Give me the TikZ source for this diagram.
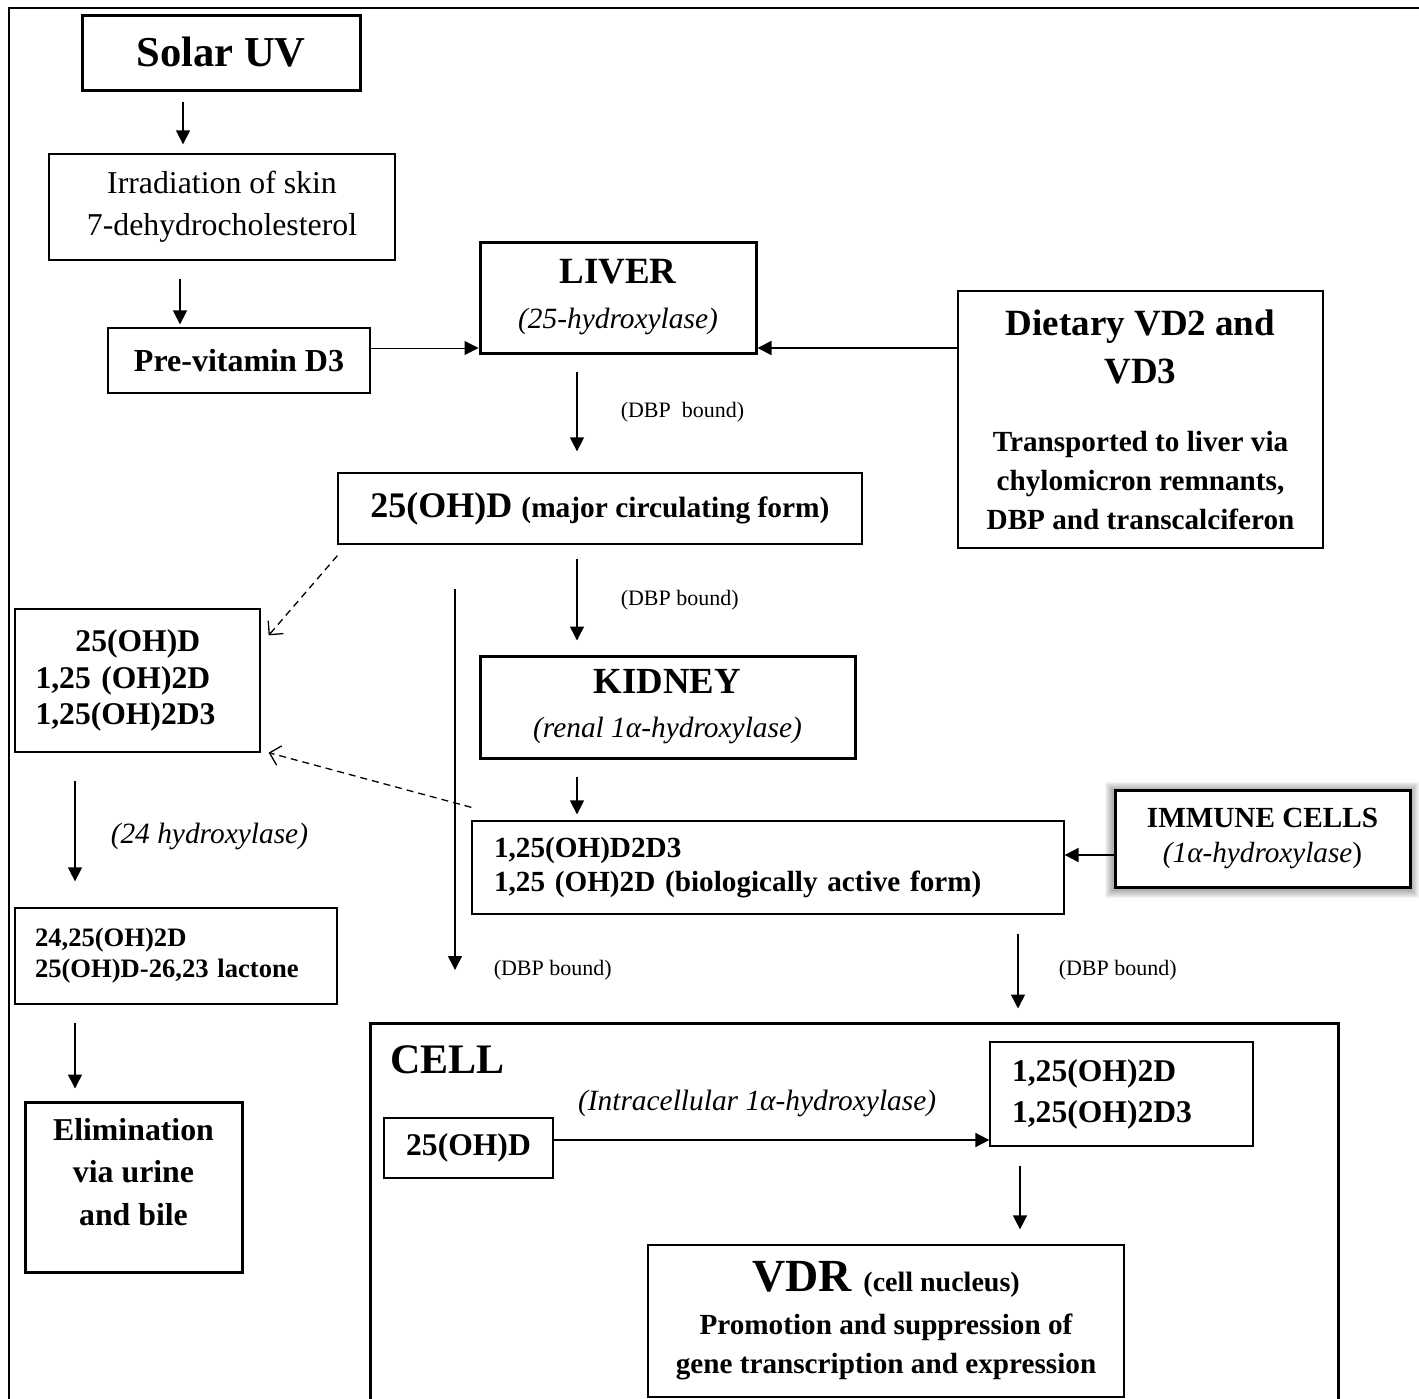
\documentclass[tikz,border=0pt]{standalone}
\usepackage{fontspec}
\setmainfont{Liberation Serif}
\usetikzlibrary{positioning,arrows.meta,backgrounds}

\newcommand{\setfs}[2]{\fontsize{#1}{#2}\selectfont}

\begin{document}
\begin{tikzpicture}[x=0.5pt,y=-0.5pt,
  box/.style={draw, line width=0.65pt, inner sep=0pt, align=center},
  bigbox/.style={box, line width=1.5pt},
  arr/.style={-{Triangle[length=7pt,width=7pt]}, line width=0.75pt},
  dasharr/.style={-{Straight Barb[length=5pt,width=10pt]}, dash pattern=on 3.5pt off 2.5pt, line width=0.65pt},
  dbp/.style={font=\setfs{11}{13}, inner sep=0pt},
  enz/.style={font=\setfs{14.7}{17}\itshape, inner sep=0pt}]

  \useasboundingbox (0,0) rectangle (1419,1398);
  \clip (0,0) rectangle (1419,1398);
  \draw[line width=1.25pt] (9,1420) -- (9,8) -- (1440,8);

  % boxes
  \node[bigbox, minimum width=139pt, minimum height=37.5pt, font=\setfs{21.3}{25}\bfseries] (solar) at (221,52.5) {Solar UV};
  \node[box, minimum width=173pt, minimum height=53pt, font=\setfs{15.9}{21}] (skin) at (222,207) {Irradiation of skin\\7-dehydrocholesterol};
  \node[box, minimum width=131pt, minimum height=32.5pt, font=\setfs{16}{19}\bfseries] (previt) at (239,360.5) {Pre-vitamin D3};
  \node[bigbox, minimum width=138pt, minimum height=55.5pt, font=\setfs{14.7}{22.5}\itshape] (liver) at (618,297.5)
    {\setfs{18.5}{22.5}\upshape\bfseries LIVER\\(25-hydroxylase)};
  \node[box, line width=1.3pt, minimum width=182.5pt, minimum height=128.5pt, font=\setfs{14.6}{19.5}\bfseries] (diet) at (1140.5,419.5)
    {\setfs{18.5}{24}Dietary VD2 and\\[4.5pt] \setfs{18.5}{24}VD3\\[14.5pt] Transported to liver via\\ chylomicron remnants,\\ DBP and transcalciferon};
  \node[box, minimum width=262pt, minimum height=35.5pt, font=\setfs{14.7}{22}\bfseries] (ohd) at (600,508.5) {\setfs{18}{22}25(OH)D \setfs{14.7}{22}(major circulating form)};
  \node[box, minimum width=122.5pt, minimum height=71.5pt, text width=102pt, align=left, font=\setfs{15.8}{18.3}\bfseries] (circ) at (137.5,680.5)
    {\hspace*{20pt}25(OH)D\\1,25 (OH)2D\\1,25(OH)2D3};
  \node[bigbox, minimum width=187.5pt, minimum height=51pt, font=\setfs{14.7}{22}\itshape] (kidney) at (667.5,707)
    {\setfs{18.4}{22}\upshape\bfseries KIDNEY\\(renal 1α-hydroxylase)};
  \node[box, minimum width=296pt, minimum height=46.5pt, text width=274pt, align=left, font=\setfs{14.6}{17}\bfseries] (active) at (768,867.5)
    {1,25(OH)D2D3\\1,25 (OH)2D (biologically active form)};
  \node[bigbox, fill=white, minimum width=147.5pt, minimum height=48.5pt, font=\setfs{14.6}{17.5}\itshape] (immune) at (1262.5,838.5)
    {\upshape\bfseries IMMUNE CELLS\\(1α-hydroxylase\upshape)};
  \node[box, minimum width=161pt, minimum height=48pt, text width=141pt, align=left, font=\setfs{13.3}{15.5}\bfseries] (metab) at (176,956)
    {24,25(OH)2D\\25(OH)D-26,23 lactone};
  \node[bigbox, minimum width=108.5pt, minimum height=85pt] (elim) at (133.5,1187) {};
  \node[font=\setfs{15.9}{21.3}\bfseries, align=center, inner sep=0pt] (elimtext) at (133.5,1172) {Elimination\\via urine\\and bile};

  % cell
  \node[bigbox, minimum width=484pt, minimum height=198.5pt] (cell) at (854,1221.5) {};
  \node[font=\setfs{21}{25}\bfseries, anchor=base west, inner sep=0pt] (celltitle) at (390,1073) {CELL};
  \node[box, minimum width=84.5pt, minimum height=30pt, font=\setfs{15.8}{19}\bfseries] (ohdin) at (468.5,1148) {25(OH)D};
  \node[box, minimum width=131.5pt, minimum height=52pt, text width=109.5pt, align=left, font=\setfs{15.8}{20.5}\bfseries] (cout) at (1121.5,1094)
    {1,25(OH)2D\\1,25(OH)2D3};
  \node[box, minimum width=238pt, minimum height=76pt, font=\setfs{14.6}{19.5}\bfseries] (vdr) at (886,1321)
    {\setfs{23}{19.5}VDR \setfs{14}{19.5}(cell nucleus)\\[2pt] Promotion and suppression of\\ gene transcription and expression};

  \begin{scope}[on background layer]
    \foreach \g in {1,...,8}
      \fill[black, opacity=0.045] ([shift={(-\g-1,-\g+1)}]immune.north west) rectangle ([shift={(\g-1,\g+1)}]immune.south east);
  \end{scope}

  % arrows
  \path (solar.south) ++(-38,10) coordinate (a1);
  \draw[arr, shorten >=4.5pt] (a1) -- (a1 |- skin.north);
  \path (skin.south) ++(-42,18) coordinate (a2);
  \draw[arr, shorten >=1.5pt] (a2) -- (a2 |- previt.north);
  \path (previt.east) ++(0,-12.5) coordinate (a3);
  \draw[arr, line width=0.5pt] (a3) -- (a3 -| liver.west);
  \path (liver.east) ++(0,50.5) coordinate (a4);
  \draw[arr, line width=0.9pt] (a4 -| diet.west) -- (a4);
  \path (liver.south) ++(-41,17) coordinate (a5);
  \draw[arr, shorten >=10.5pt] (a5) -- node[dbp, pos=0.4, right=21.5pt] (dbp1) {(DBP\ \ bound)} (a5 |- ohd.north);
  \path (ohd.south) ++(-23,14) coordinate (a6);
  \draw[arr, shorten >=7pt] (a6) -- node[dbp, pos=0.43, right=21.5pt] (dbp2) {(DBP bound)} (a6 |- kidney.north);
  \path (ohd.south) ++(-145,44) coordinate (a7);
  \coordinate (dbpend) at (455,970);
  \draw[arr] (a7) -- node[dbp, pos=1, right=19pt] (dbp3) {(DBP bound)} (dbpend);
  \path (kidney.south) ++(-90.5,17) coordinate (a8);
  \draw[arr, shorten >=3pt] (a8) -- (a8 |- active.north);
  \path (immune.west) ++(0,16.5) coordinate (a9);
  \draw[arr, line width=1pt] (a9) -- (a9 -| active.east);
  \path (active.south) ++(250,19) coordinate (a10);
  \draw[arr, shorten >=6.5pt] (a10) -- node[dbp, pos=0.42, right=20pt] (dbp4) {(DBP bound)} (a10 |- cell.north);
  \path (circ.south) ++(-62.5,28) coordinate (a11);
  \draw[arr, shorten >=13pt] (a11) -- node[enz, pos=0.44, right=17.5pt] (hyd24) {(24 hydroxylase)} (a11 |- metab.north);
  \path (metab.south) ++(-101,18) coordinate (a12);
  \draw[arr, shorten >=6pt] (a12) -- (a12 |- elim.north);
  \path (ohdin.east) ++(0,-8) coordinate (a13);
  \draw[arr, line width=0.9pt] (a13) -- node[enz, pos=0.467, above=11pt] (intra) {(Intracellular 1α-hydroxylase)} (a13 -| cout.west);
  \path (cout.south) ++(-101.5,19) coordinate (a14);
  \draw[arr, shorten >=7.5pt] (a14) -- (a14 |- vdr.north);

  % dashed returns
  \path (ohd.south west) ++(0,11) coordinate (d1);
  \path (circ.north east) ++(8,27) coordinate (d2);
  \draw[dasharr] (d1) -- (d2);
  \path (active.north west) ++(0,-13) coordinate (d3);
  \path (circ.south east) ++(8,0) coordinate (d4);
  \draw[dasharr] (d3) -- (d4);
\end{tikzpicture}
\end{document}
